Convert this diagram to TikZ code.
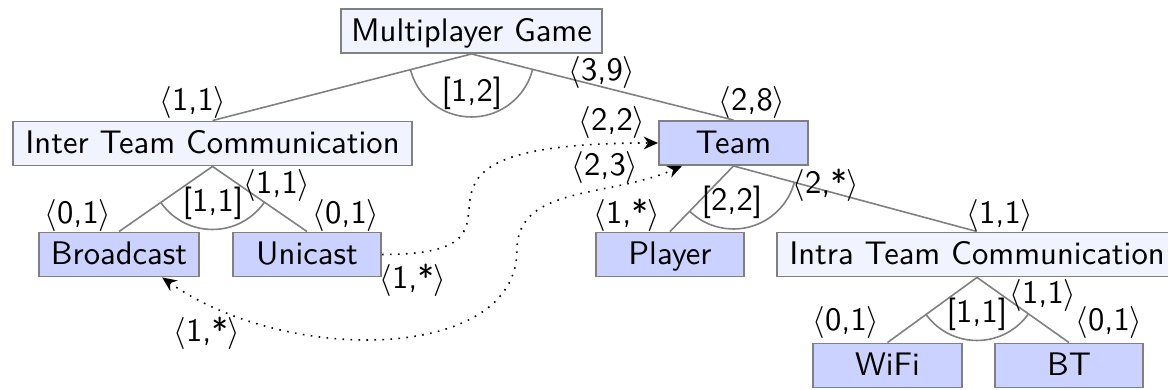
\documentclass[tikz,border=0pt]{standalone}
\usetikzlibrary{arrows.meta}
\definecolor{conc}{RGB}{204,210,255}
\definecolor{abst}{RGB}{241,243,255}
\definecolor{edgegray}{RGB}{128,128,128}
\newcommand{\crd}[1]{$\langle$#1$\rangle$}
\begin{document}
\begin{tikzpicture}[x=0.3125pt,y=-0.3125pt,font=\fontsize{10.2pt}{12pt}\selectfont\sffamily,
  box/.style={draw=edgegray,line width=0.6pt,minimum height=13.75pt,inner xsep=0pt,inner ysep=0pt,text height=7.1pt,text depth=0.6pt},
  abst box/.style={box,fill=abst},
  conc box/.style={box,fill=conc},
  edge/.style={draw=edgegray,line width=0.5pt},
  lbl/.style={inner sep=0pt},
  rel/.style={dotted,line width=0.5pt,black},
  tipend/.style={-{Stealth[length=4.5pt,width=4pt]}},
  tipboth/.style={{Stealth[length=4.5pt,width=4pt]}-{Stealth[length=4.5pt,width=4pt]}}]
\useasboundingbox (0,0) rectangle (1168,390);
\clip (0,0) rectangle (1168,390);
% nodes
\node[abst box,minimum width=81.56pt] (mg) at (471.5,31) {Multiplayer Game};
\node[abst box,minimum width=124.7pt] (itc) at (212.5,143.5) {Inter Team Communication};
\node[conc box,minimum width=46.56pt] (team) at (733.5,143) {Team};
\node[conc box,minimum width=50pt] (bc) at (119,254.5) {Broadcast};
\node[conc box,minimum width=46.25pt] (uc) at (307,254.5) {Unicast};
\node[conc box,minimum width=46.25pt] (pl) at (670,254.5) {Player};
\node[abst box,minimum width=125pt] (intra) at (977,254.5) {Intra Team Communication};
\node[conc box,minimum width=46.56pt] (wifi) at (887.5,365.5) {WiFi};
\node[conc box,minimum width=46.25pt] (bt) at (1069,365.5) {BT};
% tree edges
\draw[edge] (mg.south) -- (itc.north);
\draw[edge] (mg.south) -- (team.north);
\draw[edge] (itc.south) -- (bc.north);
\draw[edge] (itc.south) -- (uc.north);
\draw[edge] (team.south) -- (pl.north);
\draw[edge] (team.south) -- (intra.north);
\draw[edge] (intra.south) -- (wifi.north);
\draw[edge] (intra.south) -- (bt.north);
% group arcs
\begin{scope}
  \clip (mg.south) -- (itc.north) -- (team.north) -- cycle;
  \draw[edge] (mg.south) circle[radius=19.69pt];
\end{scope}
\begin{scope}
  \clip (itc.south) -- (bc.north) -- (uc.north) -- cycle;
  \draw[edge] (itc.south) circle[radius=19.69pt];
\end{scope}
\begin{scope}
  \clip (team.south) -- (pl.north) -- (intra.north) -- cycle;
  \draw[edge] (team.south) circle[radius=19.69pt];
\end{scope}
\begin{scope}
  \clip (intra.south) -- (wifi.north) -- (bt.north) -- cycle;
  \draw[edge] (intra.south) circle[radius=19.69pt];
\end{scope}
% cross-tree relations
\coordinate (m2) at (517,250);
\draw[rel,tipend] (uc.east) .. controls +(189,0) and +(-319,0) .. (team.west);
\draw[rel,tipboth] (bc.-28) .. controls +(124.5,88) and +(0,112) .. (m2)
  .. controls +(0,-65) and +(-73,32) .. (team.-156);
% labels
\node[lbl] (l1) at (193,103) {\crd{1,1}};
\node[lbl] (l2) at (472,93) {[1,2]};
\node[lbl] (l3) at (602,73) {\crd{3,9}};
\node[lbl] (l4) at (752,103) {\crd{2,8}};
\node[lbl] (l5) at (612,122) {\crd{2,2}};
\node[lbl] (l6) at (605,167) {\crd{2,3}};
\node[lbl] (l7) at (78,215) {\crd{0,1}};
\node[lbl] (l8) at (213,203) {[1,1]};
\node[lbl] (l9) at (277,186) {\crd{1,1}};
\node[lbl] (l10) at (346,215) {\crd{0,1}};
\node[lbl] (l11) at (413,280) {\crd{1,*}};
\node[lbl] (l12) at (207,333) {\crd{1,*}};
\node[lbl] (l13) at (627,215) {\crd{1,*}};
\node[lbl] (l14) at (732,202) {[2,2]};
\node[lbl] (l15) at (826,185) {\crd{2,*}};
\node[lbl] (l16) at (1000,215) {\crd{1,1}};
\node[lbl] (l17) at (846,323) {\crd{0,1}};
\node[lbl] (l18) at (977,314) {[1,1]};
\node[lbl] (l19) at (1043,295) {\crd{1,1}};
\node[lbl] (l20) at (1109,323) {\crd{0,1}};
\end{tikzpicture}
\end{document}
